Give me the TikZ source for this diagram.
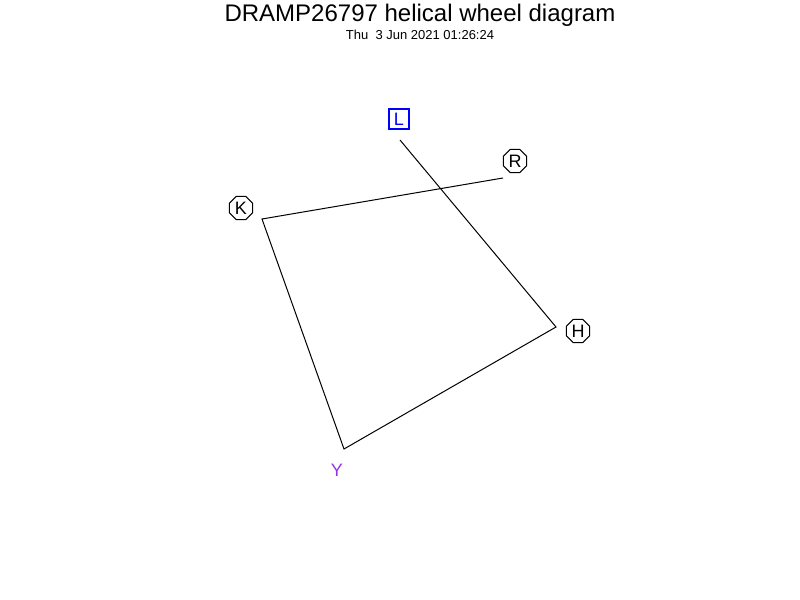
\documentclass[tikz,border=0pt]{standalone}
\usepackage{fontspec}
\setmainfont{Liberation Sans}
\usetikzlibrary{shapes.geometric}
\definecolor{ypurple}{RGB}{150,50,230}
\definecolor{lblue}{RGB}{0,0,255}

\begin{document}
\begin{tikzpicture}[x=0.5pt, y=-0.5pt, line width=0.5pt,
    every node/.style={inner sep=0pt, font=\fontsize{9}{9}\selectfont},
    octo/.style={draw, regular polygon, regular polygon sides=8, minimum size=12.5pt},
    sqbox/.style={draw=lblue, text=lblue, line width=0.6pt, minimum width=10pt, minimum height=10pt}]
  \useasboundingbox (0,0) rectangle (800,600);

  % Title
  \node (title) at (420,15) {\fontsize{12}{12}\selectfont DRAMP26797 helical wheel diagram};
  \node (date) at (420,35) {\fontsize{6.5}{6.5}\selectfont Thu\ \ 3 Jun 2021 01:26:24};

  % Wheel points
  \coordinate (pL) at (400,140);
  \coordinate (pH) at (556,327);
  \coordinate (pY) at (344,449);
  \coordinate (pK) at (262,219);
  \coordinate (pR) at (503,178);

  % Residue labels
  \node[sqbox] (L) at (399,119) {L};
  \node[octo] (R) at (515,161) {R};
  \node[octo] (K) at (241,208) {K};
  \node[octo] (H) at (578,331) {H};
  \node[text=ypurple] (Y) at (337,470) {Y};

  % Helix path
  \draw (pL) -- (pH) -- (pY) -- (pK) -- (pR);
\end{tikzpicture}
\end{document}
